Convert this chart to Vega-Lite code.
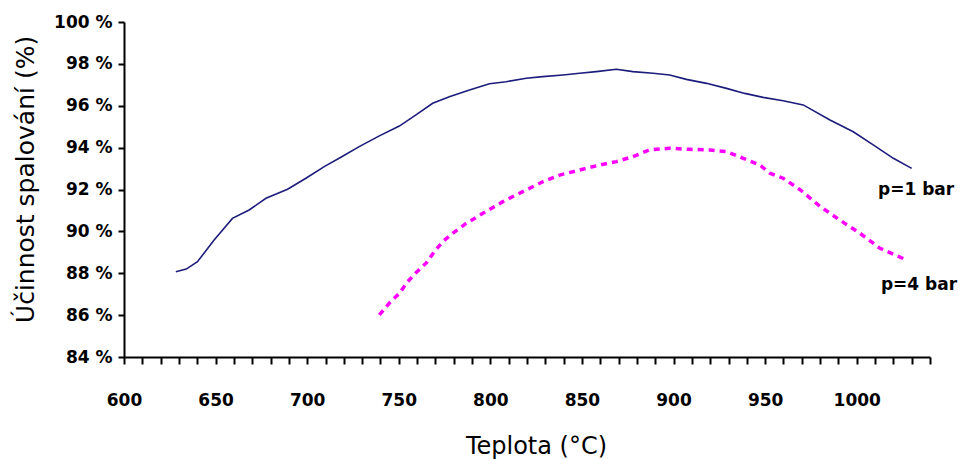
{
  "$schema": "https://vega.github.io/schema/vega-lite/v6.json",
  "autosize": {"type": "none"},
  "width": 806,
  "height": 335,
  "padding": {"left": 124, "top": 22, "right": 32, "bottom": 102},
  "background": "white",
  "config": {
    "view": {"stroke": null},
    "axis": {"grid": false, "domainColor": "black", "tickColor": "black", "labelColor": "black", "titleColor": "black"}
  },
  "datasets": {
    "p1": [
      {"t": 628.3, "e": 88.07}, {"t": 634.0, "e": 88.2}, {"t": 640.1, "e": 88.55}, {"t": 649.2, "e": 89.59}, {"t": 659.2, "e": 90.62},
      {"t": 668.3, "e": 91.02}, {"t": 677.5, "e": 91.58}, {"t": 689.3, "e": 92.01}, {"t": 699.3, "e": 92.54},
      {"t": 709.3, "e": 93.09}, {"t": 718.4, "e": 93.54}, {"t": 728.4, "e": 94.05}, {"t": 739.4, "e": 94.56},
      {"t": 750.3, "e": 95.03}, {"t": 759.4, "e": 95.56}, {"t": 768.5, "e": 96.12}, {"t": 777.6, "e": 96.43},
      {"t": 788.6, "e": 96.75}, {"t": 799.5, "e": 97.05}, {"t": 808.6, "e": 97.15}, {"t": 819.6, "e": 97.31},
      {"t": 828.6, "e": 97.39}, {"t": 839.6, "e": 97.47}, {"t": 848.7, "e": 97.55}, {"t": 857.8, "e": 97.63},
      {"t": 868.8, "e": 97.74}, {"t": 877.8, "e": 97.63}, {"t": 888.8, "e": 97.55}, {"t": 897.9, "e": 97.47},
      {"t": 907.0, "e": 97.26}, {"t": 918.0, "e": 97.07}, {"t": 928.9, "e": 96.83}, {"t": 938.9, "e": 96.59},
      {"t": 948.9, "e": 96.40}, {"t": 959.8, "e": 96.24}, {"t": 970.8, "e": 96.04}, {"t": 985.4, "e": 95.32},
      {"t": 998.1, "e": 94.76}, {"t": 1009.0, "e": 94.13}, {"t": 1020.0, "e": 93.49}, {"t": 1030.0, "e": 93.01}
    ],
    "p4": [
      {"t": 739.4, "e": 86.01}, {"t": 744.8, "e": 86.57}, {"t": 750.3, "e": 87.04}, {"t": 754.9, "e": 87.60},
      {"t": 759.4, "e": 88.03}, {"t": 764.9, "e": 88.48}, {"t": 769.4, "e": 89.03}, {"t": 774.0, "e": 89.51},
      {"t": 779.4, "e": 89.91}, {"t": 786.8, "e": 90.38}, {"t": 795.9, "e": 90.86}, {"t": 806.8, "e": 91.42},
      {"t": 817.7, "e": 91.90}, {"t": 828.6, "e": 92.37}, {"t": 837.8, "e": 92.69}, {"t": 848.7, "e": 92.93},
      {"t": 859.6, "e": 93.17}, {"t": 868.8, "e": 93.33}, {"t": 877.8, "e": 93.57}, {"t": 886.9, "e": 93.89},
      {"t": 897.9, "e": 93.97}, {"t": 908.8, "e": 93.92}, {"t": 919.8, "e": 93.89}, {"t": 928.9, "e": 93.81},
      {"t": 938.0, "e": 93.49}, {"t": 947.1, "e": 93.17}, {"t": 952.6, "e": 92.78}, {"t": 959.8, "e": 92.54},
      {"t": 968.9, "e": 92.00}, {"t": 979.9, "e": 91.20}, {"t": 990.8, "e": 90.54}, {"t": 1001.8, "e": 89.91},
      {"t": 1012.7, "e": 89.19}, {"t": 1027.3, "e": 88.63}
    ],
    "labels": [
      {"t": 1032.4, "e": 91.98, "label": "p=1 bar"},
      {"t": 1034.0, "e": 87.44, "label": "p=4 bar"}
    ]
  },
  "layer": [
    {
      "data": {"name": "p1"},
      "mark": {"type": "line", "color": "#1c1c7c", "strokeWidth": 1.6},
      "encoding": {
        "x": {
          "field": "t", "type": "quantitative",
          "scale": {"domain": [600, 1040], "nice": false, "zero": false},
          "axis": {
            "title": "Teplota (°C)",
            "values": [600,610,620,630,640,650,660,670,680,690,700,710,720,730,740,750,760,770,780,790,800,810,820,830,840,850,860,870,880,890,900,910,920,930,940,950,960,970,980,990,1000,1010,1020,1030,1040],
            "tickCount": 60,
            "format": "d",
            "labelExpr": "datum.value % 50 === 0 ? datum.label : ''",
            "labelOverlap": false,
            "labelFlush": false,
            "labelFont": "DejaVu Sans", "labelFontWeight": "bold", "labelFontSize": 17,
            "labelPadding": 28,
            "tickSize": 7, "tickWidth": 2, "domainWidth": 2,
            "titleFont": "DejaVu Sans", "titleFontWeight": "normal", "titleFontSize": 24,
            "titlePadding": 26, "titleX": 412
          }
        },
        "y": {
          "field": "e", "type": "quantitative",
          "scale": {"domain": [84, 100], "nice": false, "zero": false},
          "axis": {
            "title": "Účinnost spalování (%)",
            "values": [84,86,88,90,92,94,96,98,100],
            "tickCount": 20,
            "labelExpr": "datum.value + ' %'",
            "labelFlush": false,
            "labelFont": "DejaVu Sans", "labelFontWeight": "bold", "labelFontSize": 17,
            "labelPadding": 6,
            "tickSize": 6, "tickWidth": 2, "domainWidth": 2,
            "titleFont": "DejaVu Sans", "titleFontWeight": "normal", "titleFontSize": 25,
            "titleX": -86, "titleY": 157
          }
        }
      }
    },
    {
      "data": {"name": "p4"},
      "mark": {"type": "line", "color": "#ff00ff", "strokeWidth": 3.5, "strokeDash": [6, 5]},
      "encoding": {
        "x": {"field": "t", "type": "quantitative"},
        "y": {"field": "e", "type": "quantitative"}
      }
    },
    {
      "data": {"name": "labels"},
      "mark": {"type": "text", "font": "DejaVu Sans", "fontWeight": "bold", "fontSize": 17, "color": "black", "align": "center", "baseline": "middle"},
      "encoding": {
        "x": {"field": "t", "type": "quantitative"},
        "y": {"field": "e", "type": "quantitative"},
        "text": {"field": "label"}
      }
    }
  ]
}
